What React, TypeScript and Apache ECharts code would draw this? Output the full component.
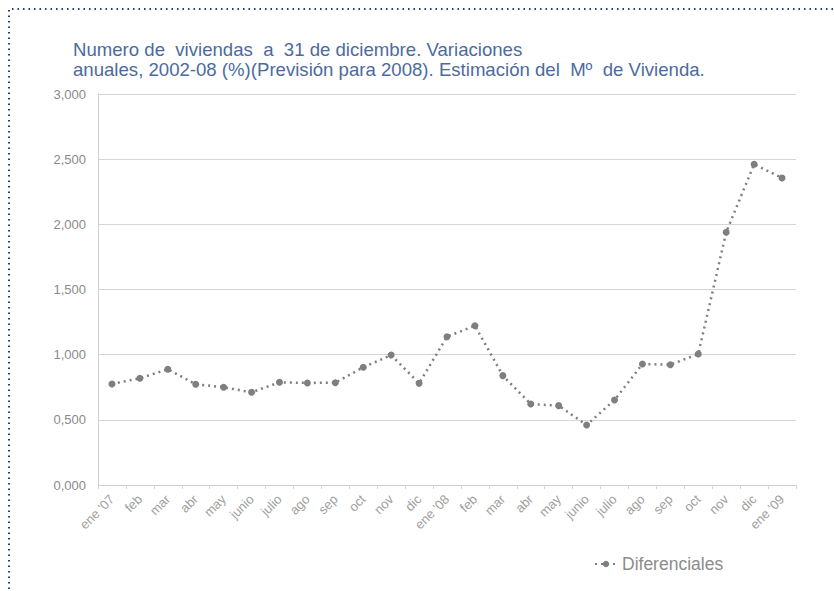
import React, { useEffect, useRef } from "react";
import * as echarts from "echarts";

const categories = [
  "ene '07", "feb", "mar", "abr", "may", "junio", "julio", "ago", "sep", "oct", "nov", "dic",
  "ene '08", "feb", "mar", "abr", "may", "junio", "julio", "ago", "sep", "oct", "nov", "dic",
  "ene '09",
];
const diferenciales = [
  0.775, 0.819, 0.888, 0.773, 0.75, 0.711, 0.788, 0.783, 0.785, 0.903, 0.997, 0.78,
  1.138, 1.222, 0.839, 0.621, 0.609, 0.46, 0.652, 0.928, 0.923, 1.005, 1.939, 2.461,
  2.356,
];
const titleLines = [
  "Numero de  viviendas  a  31 de diciembre. Variaciones",
  "anuales, 2002-08 (%)(Previsión para 2008). Estimación del  Mº  de Vivienda.",
];
const seriesName = "Diferenciales";

export default function App() {
  const ref = useRef<HTMLDivElement>(null);
  useEffect(() => {
    if (!ref.current) return;
    const chart = echarts.init(ref.current, undefined, { renderer: "svg" });
    const font = "'Liberation Sans', Arial, Helvetica, sans-serif";
    chart.setOption({
      animation: false,
      backgroundColor: "#ffffff",
      textStyle: { fontFamily: font },
      title: {
        text: titleLines.join("\n"),
        left: 68,
        top: 34,
        textStyle: {
          color: "#4b6b9e",
          fontSize: 18.6,
          fontWeight: "normal",
          lineHeight: 20.5,
          fontFamily: font,
        },
      },
      graphic: [
        {
          type: "polyline",
          shape: { points: [[9, 600], [9, 9], [840, 9]] },
          style: { stroke: "#1f3f7a", lineWidth: 2, lineDash: [1.5, 4], fill: "none" },
          silent: true,
        },
      ],
      legend: {
        data: [seriesName],
        left: 589,
        top: 550,
        itemWidth: 22,
        itemHeight: 8,
        itemGap: 6,
        textStyle: { color: "#8c8c8c", fontSize: 17.5, fontFamily: font },
      },
      grid: { left: 98, right: 38, top: 94, bottom: 106, containLabel: false },
      xAxis: {
        type: "category",
        data: categories,
        boundaryGap: true,
        axisLine: { lineStyle: { color: "#cfcfcf", width: 1 } },
        axisTick: { show: true, length: 4, lineStyle: { color: "#d5d5d5" } },
        axisLabel: {
          rotate: 45,
          color: "#a0a0a0",
          fontSize: 13,
          interval: 0,
          margin: 12,
          fontFamily: font,
        },
      },
      yAxis: {
        type: "value",
        min: 0,
        max: 3,
        interval: 0.5,
        axisLine: { show: true, lineStyle: { color: "#cfcfcf" } },
        axisTick: { show: false },
        splitLine: { lineStyle: { color: "#d6d6d6", width: 1 } },
        axisLabel: {
          color: "#8a8a8a",
          fontSize: 13,
          margin: 12,
          fontFamily: font,
          formatter: (v: number) => v.toFixed(3).replace(".", ","),
        },
      },
      series: [
        {
          name: seriesName,
          type: "line",
          data: diferenciales,
          symbol: "circle",
          symbolSize: 7,
          itemStyle: { color: "#7f7f82" },
          lineStyle: { color: "#7f7f82", width: 2.5, type: [2, 4] },
        },
      ],
    });
    return () => chart.dispose();
  }, []);
  return (
    <div
      ref={ref}
      style={{ position: "fixed", left: 0, top: 0, width: 834, height: 591 }}
    />
  );
}
